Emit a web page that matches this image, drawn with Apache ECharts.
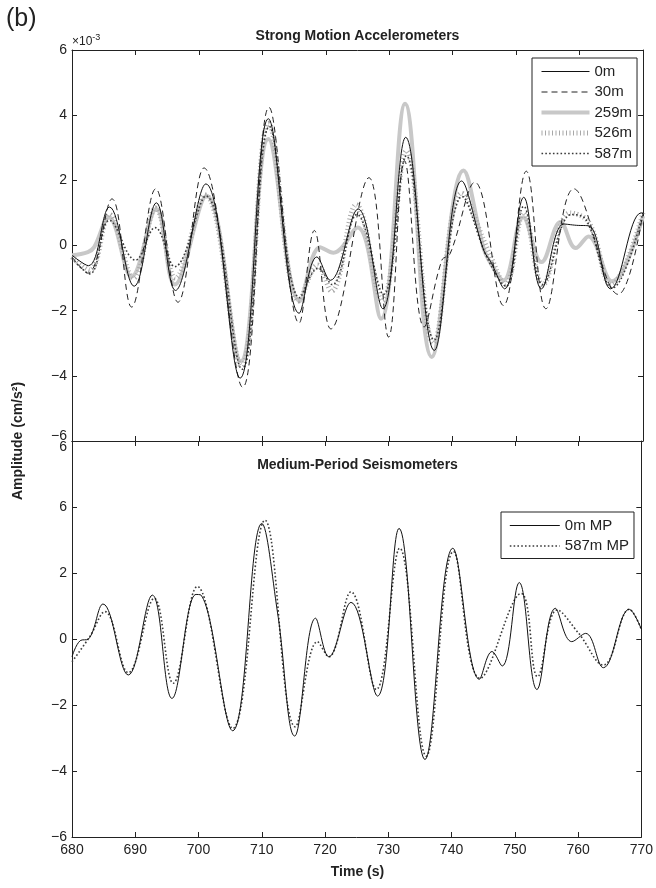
<!DOCTYPE html>
<html>
<head>
<meta charset="utf-8">
<script src="https://cdn.jsdelivr.net/npm/echarts@6/dist/echarts.min.js"></script>
<style>
html,body{margin:0;padding:0;background:#fff;}
#chart{width:656px;height:888px;}
</style>
</head>
<body>
<div id="chart"></div>
<script>
// ---- Data (top panel amplitudes in units of 1e-3 cm/s^2) ----
const timeTicks = [680, 690, 700, 710, 720, 730, 740, 750, 760, 770];
const xTickLabels = ['680','690','700','710','720','730','740','750','760','770'];
const yTickValues = [-6, -4, -2, 0, 2, 4, 6];
const topYTickLabels = ['\u22126','\u22124','\u22122','0','2','4','6'];
const bottomYTickLabels = ['\u22126','\u22124','\u22122','0','2','6','6'];

// Strong Motion Accelerometers
const t_0m  = [680, 682.6, 685.9, 689.8, 693.3, 696.3, 701.1, 706.5, 710.95, 715.8, 718.6, 720.7, 725.1, 729.0, 732.6, 737.1, 741.4, 744.9, 746.0, 748.2, 751.2, 754.0, 757.5, 759.5, 761.5, 764.9, 769.7, 770];
const v_0m  = [-0.30, -0.62, 1.18, -1.25, 1.31, -1.38, 1.89, -4.07, 3.89, -2.08, -0.35, -1.07, 1.12, -1.94, 3.32, -3.22, 1.98, -0.15, -0.50, -1.33, 1.48, -1.33, 0.66, 0.62, 0.60, -1.33, 1.0, 0.99];

const t_30m = [680, 682.5, 686.3, 689.4, 693.2, 696.7, 700.8, 706.9, 711.05, 715.8, 718.2, 720.8, 726.8, 729.9, 732.4, 735.5, 738.3, 739.6, 743.5, 748.0, 751.6, 754.7, 759.1, 766.1, 770];
const v_30m = [-0.35, -0.85, 1.43, -1.89, 1.74, -1.74, 2.38, -4.35, 4.24, -2.38, 0.46, -2.56, 2.08, -2.81, 2.60, -2.50, -0.45, -0.25, 1.94, -1.84, 2.28, -1.94, 1.74, -1.50, 1.00];

const t_259m = [680, 682.5, 683.5, 685.8, 689.4, 693.3, 696.2, 701.2, 706.6, 710.95, 715.9, 719.1, 721.2, 725.0, 728.7, 732.5, 736.7, 741.7, 744.9, 746.0, 748.0, 751.1, 754.0, 757.0, 759.4, 761.4, 765.1, 770];
const v_259m = [-0.30, -0.20, -0.05, 0.87, -0.95, 1.12, -1.20, 1.53, -3.55, 3.27, -1.70, -0.05, -0.22, 0.55, -2.25, 4.35, -3.42, 2.30, -0.10, -0.55, -1.07, 0.87, -0.51, 0.72, -0.08, 0.28, -1.10, 0.90];

const t_526m = [680, 682.8, 685.9, 689.7, 693.2, 696.3, 701.0, 706.7, 711.0, 715.8, 718.7, 720.9, 724.8, 728.9, 732.7, 737.0, 741.4, 745.7, 748.3, 751.2, 754.2, 758.5, 761.5, 765.0, 770];
const v_526m = [-0.35, -0.75, 0.95, -1.00, 1.15, -1.00, 1.55, -3.70, 3.75, -1.70, -0.60, -1.40, 1.25, -1.70, 2.90, -3.00, 1.60, -0.20, -1.20, 1.00, -1.20, 1.00, 0.70, -1.20, 1.00];

const t_587m = [680, 682.8, 685.9, 690.0, 693.1, 696.2, 701.1, 706.8, 711.1, 715.9, 718.8, 721.0, 724.9, 729.1, 732.7, 737.1, 741.5, 745.5, 748.4, 751.2, 754.2, 758.7, 761.0, 765.2, 770];
const v_587m = [-0.40, -0.87, 0.77, -0.45, 0.55, -0.65, 1.52, -3.80, 3.65, -1.60, -0.70, -1.20, 0.95, -1.50, 2.75, -2.90, 1.50, -0.40, -1.25, 1.20, -1.20, 0.95, 0.80, -1.30, 1.00];

// Medium-Period Seismometers
const t_0mMP = [680, 681.3, 682.6, 684.9, 688.9, 692.7, 695.8, 699.6, 700.4, 705.4, 710.0, 712.5, 715.2, 718.5, 720.6, 724.1, 728.3, 731.7, 735.8, 740.2, 744.4, 746.4, 748.0, 750.7, 753.5, 756.4, 759.0, 761.2, 764.0, 768.1, 770];
const v_0mMP = [-0.54, -0.05, 0.00, 1.06, -1.09, 1.33, -1.80, 1.35, 1.33, -2.78, 3.50, 0.79, -2.94, 0.63, -0.54, 1.11, -1.73, 3.35, -3.65, 2.75, -1.22, -0.38, -0.82, 1.71, -1.53, 0.93, -0.08, 0.17, -0.87, 0.90, 0.30];

const t_587mMP = [680, 682.8, 685.2, 688.9, 693.0, 696.0, 699.8, 705.4, 710.5, 715.3, 718.8, 720.6, 724.1, 728.1, 731.8, 736.0, 740.3, 744.5, 751.0, 753.6, 756.7, 760.1, 764.0, 768.1, 770];
const v_587mMP = [-0.69, 0.07, 0.83, -1.02, 1.23, -1.34, 1.59, -2.71, 3.60, -2.66, -0.08, -0.54, 1.43, -1.53, 2.75, -3.55, 2.65, -1.19, 1.38, -1.14, 0.88, 0.17, -0.79, 0.90, 0.30];

function zip(t, v) { return t.map((x, i) => [x, v[i]]); }

const chart = echarts.init(document.getElementById('chart'), null, {renderer: 'canvas'});
const FONT = 'Liberation Sans, Arial, Helvetica, sans-serif';
const AX = '#222';

function xAx(grid, pos, showLabel) {
  return {
    type: 'value', gridIndex: grid, position: pos, min: 680, max: 770, interval: 10,
    axisLine: {show: true, onZero: false, lineStyle: {color: AX, width: 1}},
    axisTick: {show: true, inside: true, length: 5, lineStyle: {color: AX}},
    splitLine: {show: false},
    axisLabel: {show: showLabel, margin: 6, fontFamily: FONT, fontSize: 14, color: AX,
      formatter: v => xTickLabels[timeTicks.indexOf(v)] || ''}
  };
}
function yAx(grid, pos, labels, showLabel) {
  return {
    type: 'value', gridIndex: grid, position: pos, min: -6, max: 6, interval: 2,
    axisLine: {show: true, onZero: false, lineStyle: {color: AX, width: 1}},
    axisTick: {show: true, inside: true, length: 5, lineStyle: {color: AX}},
    splitLine: {show: false},
    axisLabel: {show: showLabel, margin: 5, fontFamily: FONT, fontSize: 14, color: AX,
      formatter: v => {
        const s = labels[yTickValues.indexOf(v)];
        if (grid === 0 && v === -6) return '{up|' + s + '}';
        if (grid === 1 && v === 6) return '{dn|' + s + '}';
        return s;
      },
      rich: {
        up: {fontFamily: FONT, fontSize: 14, color: AX, padding: [0, 0, 9, 0]},
        dn: {fontFamily: FONT, fontSize: 14, color: AX, padding: [12, 0, 0, 0]}
      }
    }
  };
}

function line(name, data, xi, yi, style, z) {
  return {
    name: name, type: 'line', data: data, xAxisIndex: xi, yAxisIndex: yi,
    smooth: 0.4, symbol: 'none', showSymbol: false, z: z,
    lineStyle: style, itemStyle: {color: style.color}, animation: false
  };
}

const legendCommon = {
  orient: 'vertical', itemHeight: 14, itemGap: 5.5,
  borderColor: '#222', borderWidth: 1, backgroundColor: '#fff',
  textStyle: {fontFamily: FONT, fontSize: 15, color: AX},
  itemStyle: {opacity: 0},
  lineStyle: {width: 'inherit'},
  selectedMode: false
};

const option = {
  animation: false,
  backgroundColor: '#fff',
  grid: [
    {left: 72, right: 13, top: 50, height: 391},
    {left: 72, right: 13, top: 441, height: 396}
  ],
  xAxis: [xAx(0, 'bottom', false), xAx(0, 'top', false), xAx(1, 'bottom', true), xAx(1, 'top', false)],
  yAxis: [yAx(0, 'left', topYTickLabels, true), yAx(0, 'right', topYTickLabels, false),
          yAx(1, 'left', bottomYTickLabels, true), yAx(1, 'right', bottomYTickLabels, false)],
  legend: [
    Object.assign({}, legendCommon, {
      data: ['0m', '30m', '259m', '526m', '587m'],
      left: 532, top: 58, itemWidth: 48,
      padding: [6, 5, 5, 7]
    }),
    Object.assign({}, legendCommon, {
      data: ['0m MP', '587m MP'],
      left: 501, top: 512, itemWidth: 50,
      padding: [6, 5, 5, 8]
    })
  ],
  series: [
    line('259m', zip(t_259m, v_259m), 0, 0, {color: '#c8c8c8', width: 4, type: 'solid'}, 2),
    line('526m', zip(t_526m, v_526m), 0, 0, {color: '#a8a8a8', width: 5, type: [1, 2.5]}, 3),
    line('587m', zip(t_587m, v_587m), 0, 0, {color: '#3a3a3a', width: 1.6, type: [1.6, 2.2]}, 4),
    line('30m', zip(t_30m, v_30m), 0, 0, {color: '#222', width: 1, type: [6, 4]}, 5),
    line('0m', zip(t_0m, v_0m), 0, 0, {color: '#111', width: 1, type: 'solid'}, 6),
    line('587m MP', zip(t_587mMP, v_587mMP), 2, 2, {color: '#3a3a3a', width: 1.6, type: [1.6, 2.2]}, 4),
    line('0m MP', zip(t_0mMP, v_0mMP), 2, 2, {color: '#111', width: 1, type: 'solid'}, 6)
  ],
  graphic: [
    {type: 'text', left: 6, top: 7, style: {text: '(b)', fontFamily: FONT, fontSize: 25, fill: AX}},
    {type: 'text', x: 357.5, y: 36, style: {text: 'Strong Motion Accelerometers', fontFamily: FONT, fontSize: 14, fontWeight: 'bold', fill: AX, align: 'center', verticalAlign: 'middle'}},
    {type: 'text', x: 357.5, y: 465, z: 10, style: {text: 'Medium-Period Seismometers', fontFamily: FONT, fontSize: 14, fontWeight: 'bold', fill: AX, align: 'center', verticalAlign: 'middle'}},
    {type: 'text', x: 357.5, y: 872, style: {text: 'Time (s)', fontFamily: FONT, fontSize: 14, fontWeight: 'bold', fill: AX, align: 'center', verticalAlign: 'middle'}},
    {type: 'text', x: 18, y: 441, rotation: Math.PI / 2, style: {text: 'Amplitude (cm/s\u00b2)', fontFamily: FONT, fontSize: 14, fontWeight: 'bold', fill: AX, align: 'center', verticalAlign: 'middle'}},
    {type: 'text', x: 72, y: 42, style: {
      text: '{a|\u00d710}{b|-3}', verticalAlign: 'middle',
      rich: {a: {fontFamily: FONT, fontSize: 12, fill: AX, color: AX},
             b: {fontFamily: FONT, fontSize: 9, fill: AX, color: AX, verticalAlign: 'top', padding: [0, 0, 8, 0]}}
    }}
  ]
};
chart.setOption(option);
</script>
</body>
</html>
